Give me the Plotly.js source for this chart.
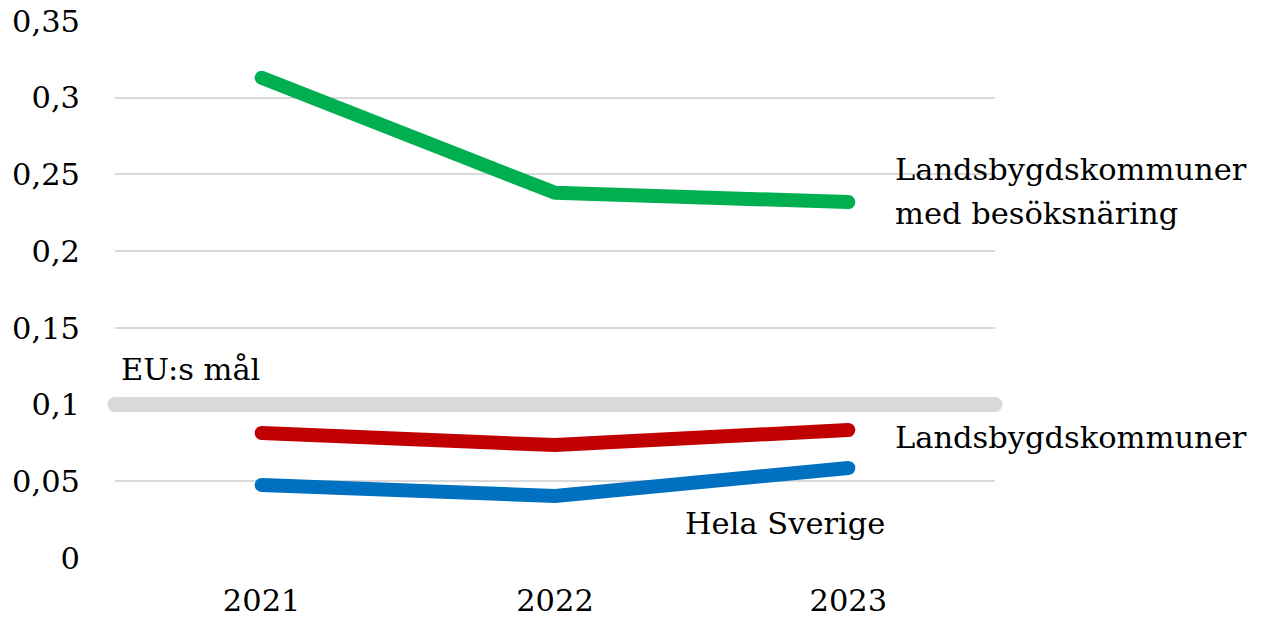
<!DOCTYPE html>
<html>
<head>
<meta charset="utf-8">
<script src="https://cdn.plot.ly/plotly-3.0.1.min.js"></script>
<style>
html,body{margin:0;padding:0;background:#fff;}
#chart{width:1263px;height:620px;}
.scatterlayer path.js-line{stroke-linecap:round;stroke-linejoin:round;}
.shapelayer path{stroke-linecap:round;}
</style>
</head>
<body>
<div id="chart"></div>
<script>
const years = ['2021', '2022', '2023'];
const besoksnaring = [0.313, 0.238, 0.232];
const landsbygd = [0.0815, 0.0736, 0.0834];
const helaSverige = [0.0476, 0.0404, 0.0587];
const euGoal = 0.1;
const yTicks = [0, 0.05, 0.1, 0.15, 0.2, 0.25, 0.3, 0.35];
const yTickText = ['0', '0,05', '0,1', '0,15', '0,2', '0,25', '0,3', '0,35'];

const FONT = 'DejaVu Serif, serif';
const FS = 30.5;
const W = 14;

const traces = [
  {x: years, y: besoksnaring, mode: 'lines', line: {color: '#00b050', width: W}, hoverinfo: 'skip'},
  {x: years, y: landsbygd, mode: 'lines', line: {color: '#c00000', width: W}, hoverinfo: 'skip'},
  {x: years, y: helaSverige, mode: 'lines', line: {color: '#0070c0', width: W}, hoverinfo: 'skip'}
];

const tf = {family: FONT, size: FS, color: '#000'};

const layout = {
  width: 1263, height: 620,
  margin: {l: 115, r: 268, t: 21, b: 62},
  paper_bgcolor: '#fff', plot_bgcolor: '#fff',
  showlegend: false,
  separators: ',.',
  font: tf,
  xaxis: {
    type: 'category', range: [-0.5, 2.5], showgrid: false, zeroline: false, showline: false,
    ticks: '', ticklabelstandoff: 21, tickfont: tf
  },
  yaxis: {
    range: [0, 0.35], tickvals: yTicks, ticktext: yTickText,
    showgrid: true, gridcolor: '#d9d9d9', gridwidth: 2, zeroline: false, showline: false,
    ticks: '', ticklabelstandoff: 34, tickfont: tf
  },
  shapes: [
    {type: 'line', xref: 'paper', x0: 0, x1: 1, yref: 'y', y0: euGoal, y1: euGoal,
     line: {color: '#d9d9d9', width: 15}, layer: 'below'}
  ],
  annotations: [
    {xref: 'paper', yref: 'y', x: 0.884, y: 0.2535, xanchor: 'left', yanchor: 'middle', align: 'left',
     text: 'Landsbygdskommuner', showarrow: false, font: tf},
    {xref: 'paper', yref: 'y', x: 0.884, y: 0.2245, xanchor: 'left', yanchor: 'middle', align: 'left',
     text: 'med besöksnäring', showarrow: false, font: tf},
    {xref: 'paper', yref: 'y', x: 0.884, y: 0.0785, xanchor: 'left', yanchor: 'middle', align: 'left',
     text: 'Landsbygdskommuner', showarrow: false, font: tf},
    {xref: 'paper', yref: 'y', x: 0.646, y: 0.0225, xanchor: 'left', yanchor: 'middle', align: 'left',
     text: 'Hela Sverige', showarrow: false, font: tf},
    {xref: 'paper', yref: 'y', x: 0.005, y: 0.123, xanchor: 'left', yanchor: 'middle', align: 'left',
     text: 'EU:s mål', showarrow: false, font: tf}
  ]
};

Plotly.newPlot('chart', traces, layout, {staticPlot: true, displayModeBar: false});
</script>
</body>
</html>
